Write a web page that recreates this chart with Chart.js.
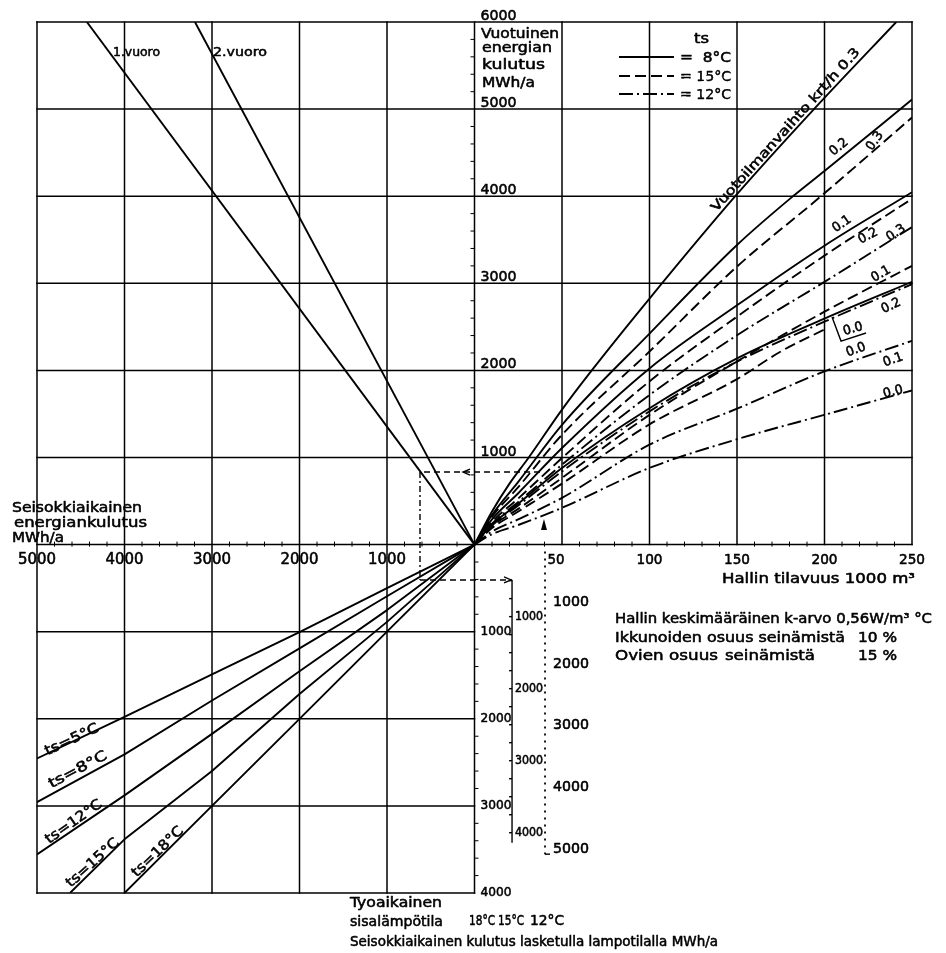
<!DOCTYPE html>
<html><head><meta charset="utf-8">
<script src="https://cdn.jsdelivr.net/npm/chart.js@4.4.1/dist/chart.umd.min.js"></script>
<style>html,body{margin:0;padding:0;background:#fff}#wrap{width:946px;height:953px;position:relative}</style>
</head><body><div id="wrap"><canvas id="c"></canvas></div>
<script>
// ================= DATA =================
// tick labels
const leftTicks  = [1000, 2000, 3000, 4000, 5000];      // standby MWh/a (left)
const volTicks   = [50, 100, 150, 200, 250];             // hall volume 1000 m3 (right)
const upTicks    = [1000, 2000, 3000, 4000, 5000, 6000]; // annual MWh/a (up)
const downTicks  = [1000, 2000, 3000, 4000];             // 18 °C scale (down)
const scale15Ticks = [1000, 2000, 3000, 4000];           // 15 °C scale
const scale12Ticks = [1000, 2000, 3000, 4000, 5000];     // 12 °C scale
const scale15Ratio = 0.827;   // MWh/a on 15 °C scale vs 18 °C scale
const scale12Ratio = 0.708;   // MWh/a on 12 °C scale vs 18 °C scale
const volToAxis = 20;         // 1000 m3 -> common axis unit

// upper right: annual energy vs hall volume (V in 1000 m3, E in MWh/a)
// ts = 8 °C (solid)
const s03V = [0, 10, 20, 31, 50, 67, 100, 149, 194, 241];
const s03E = [0, 380, 700, 1000, 1550, 2000, 2825, 4000, 5000, 6000];
const s02V = [0, 10, 25, 50, 100, 150, 182, 200, 250];
const s02E = [0, 340, 720, 1375, 2423, 3440, 4000, 4290, 5109];
const s01V = [0, 10, 25, 50, 100, 150, 200, 250];
const s01E = [0, 290, 590, 1109, 2023, 2747, 3432, 4046];
const s00V = [0, 10, 25, 50, 100, 150, 200, 250];
const s00E = [0, 230, 470, 880, 1566, 2137, 2594, 3017];
// ts = 15 °C (dashed)
const d03V = [0, 10, 25, 50, 100, 150, 198, 250];
const d03E = [0, 320, 660, 1261, 2217, 3192, 4000, 4903];
const d02V = [0, 10, 25, 50, 100, 150, 200, 250];
const d02E = [0, 260, 530, 994, 1874, 2617, 3318, 3970];
const d01V = [0, 10, 25, 50, 100, 150, 200, 250];
const d01E = [0, 210, 410, 766, 1489, 2103, 2674, 3200];
const d00V = [0, 10, 25, 50, 100, 150, 175, 201];
const d00E = [0, 190, 380, 700, 1380, 1900, 2217, 2480];
// ts = 12 °C (dash-dot)
const c03V = [0, 10, 25, 50, 100, 150, 200, 250];
const c03E = [0, 240, 490, 918, 1718, 2403, 3017, 3646];
const c02V = [0, 10, 25, 50, 100, 150, 200, 250];
const c02E = [0, 220, 450, 840, 1530, 2100, 2560, 2990];
const c01V = [0, 10, 25, 50, 100, 150, 200, 250];
const c01E = [0, 150, 290, 537, 1147, 1560, 1989, 2340];
const c00V = [0, 10, 25, 50, 100, 150, 200, 250];
const c00E = [0, 120, 225, 423, 880, 1210, 1490, 1770];

// upper left: shift lines (standby MWh/a to the left, annual MWh/a up)
const vuoro1Left = [0, 4430], vuoro1Up = [0, 6000];
const vuoro2Left = [0, 3195], vuoro2Up = [0, 6000];

// lower left: standby energy (left) vs energy at working temperature (down)
const tsLeft   = [0, 1000, 2000, 3000, 4000, 5000];
const ts5Down  = [0, 500, 1005, 1491, 1978, 2455];
const ts8Down  = [0, 593, 1191, 1790, 2408, 2956];
const ts12Down = [0, 752, 1453, 2173, 2879, 3558];
const ts15Left = [0, 1000, 2000, 3000, 4000, 4623];
const ts15Down = [0, 887, 1716, 2600, 3384, 4000];
const ts18Left = [0, 1000, 2000, 3000, 4000];
const ts18Down = [0, 1000, 2000, 3000, 4000];

// worked example path (common axis units)
const exLeft = 623, exUp = 833, exDown = 406, exVol = 39.7;

// ================= BUILD =================
const FONT = '"DejaVu Sans", "Liberation Sans", sans-serif';
const DASH = [11, 5], DASHDOT = [14, 4, 2, 4];
function upRight(V, E, dash) {
  return { data: V.map((v, i) => ({ x: v * volToAxis, y: E[i] })), borderDash: dash,
           cubicInterpolationMode: 'monotone', borderWidth: 1.9 };
}
function lowerLeft(L, D) {
  return { data: L.map((l, i) => ({ x: -l, y: -D[i] })), tension: 0, borderWidth: 1.9 };
}
function upperLeft(L, U) {
  return { data: L.map((l, i) => ({ x: -l, y: U[i] })), tension: 0, borderWidth: 1.9 };
}
const datasets = [
  upRight(s03V, s03E, []), upRight(s02V, s02E, []), upRight(s01V, s01E, []), upRight(s00V, s00E, []),
  upRight(d03V, d03E, DASH), upRight(d02V, d02E, DASH), upRight(d01V, d01E, DASH), upRight(d00V, d00E, DASH),
  upRight(c03V, c03E, DASHDOT), upRight(c02V, c02E, DASHDOT), upRight(c01V, c01E, DASHDOT), upRight(c00V, c00E, DASHDOT),
  upperLeft(vuoro1Left, vuoro1Up), upperLeft(vuoro2Left, vuoro2Up),
  lowerLeft(tsLeft, ts5Down), lowerLeft(tsLeft, ts8Down), lowerLeft(tsLeft, ts12Down),
  lowerLeft(ts15Left, ts15Down), lowerLeft(ts18Left, ts18Down)
].map(d => Object.assign({ showLine: true, borderColor: '#000', pointRadius: 0, fill: false,
                            borderJoinStyle: 'round' }, d));

function txt(ctx, s, x, y, o) {
  o = o || {};
  ctx.save();
  ctx.font = (o.size || 14) + 'px ' + FONT;
  ctx.textAlign = o.align || 'left';
  ctx.textBaseline = o.base || 'alphabetic';
  ctx.fillStyle = '#000'; ctx.strokeStyle = '#000'; ctx.lineWidth = 0.55; ctx.lineJoin = 'round';
  ctx.translate(x, y);
  if (o.rot) ctx.rotate(o.rot * Math.PI / 180);
  if (o.w) { const m = ctx.measureText(s).width; if (m > 0) ctx.scale(o.w / m, 1); }
  ctx.fillText(s, 0, 0);
  ctx.strokeText(s, 0, 0);
  ctx.restore();
}

const nomo = {
  id: 'nomo',
  beforeDatasetsDraw(chart) {
    const { ctx, scales: { x, y } } = chart;
    const X = v => x.getPixelForValue(v), Y = v => y.getPixelForValue(v);
    ctx.save();
    ctx.strokeStyle = '#000'; ctx.lineWidth = 1.5; ctx.lineCap = 'square';
    const seg = (x1, y1, x2, y2) => { ctx.beginPath(); ctx.moveTo(X(x1), Y(y1)); ctx.lineTo(X(x2), Y(y2)); ctx.stroke(); };
    for (const v of [-5000, -4000, -3000, -2000, -1000, 0]) seg(v, 6000, v, -4000);
    for (const v of [1000, 2000, 3000, 4000, 5000]) seg(v, 0, v, 6000);
    for (const h of [0, 1000, 2000, 3000, 4000, 5000, 6000]) seg(-5000, h, 5000, h);
    for (const h of [-1000, -2000, -3000, -4000]) seg(-5000, h, 0, h);
    // minor ticks
    ctx.lineWidth = 1; ctx.lineCap = 'butt';
    for (let v = -4800; v < 5000; v += 200) {
      if (v % 1000 === 0) continue;
      ctx.beginPath(); ctx.moveTo(X(v), Y(0) - 3); ctx.lineTo(X(v), Y(0) + 2); ctx.stroke();
    }
    for (let h = -3800; h < 6000; h += 200) {
      if (h % 1000 === 0) continue;
      ctx.beginPath();
      if (h > 0) { ctx.moveTo(X(0) - 4, Y(h)); ctx.lineTo(X(0), Y(h)); }
      else { ctx.moveTo(X(0), Y(h)); ctx.lineTo(X(0) + 4, Y(h)); }
      ctx.stroke();
    }
    // 15 °C scale
    const x15 = 429, x12 = 806;
    ctx.lineWidth = 1.4;
    seg(x15, -exDown, x15, -4140 * scale15Ratio);
    for (let k = 500; k <= 4000; k += 250) {
      ctx.beginPath(); ctx.moveTo(X(x15) - 3, Y(-k * scale15Ratio)); ctx.lineTo(X(x15), Y(-k * scale15Ratio)); ctx.stroke();
    }
    // 12 °C scale (dotted)
    ctx.setLineDash([2, 5]); ctx.lineWidth = 1.8;
    seg(x12, -80, x12, -5020 * scale12Ratio);
    ctx.setLineDash([]);
    ctx.lineWidth = 1.4;
    ctx.beginPath(); ctx.moveTo(X(x12), Y(-5020 * scale12Ratio)); ctx.lineTo(X(x12) + 5, Y(-5020 * scale12Ratio)); ctx.stroke();
    ctx.restore();
  },
  afterDatasetsDraw(chart) {
    const { ctx, scales: { x, y } } = chart;
    const X = v => x.getPixelForValue(v), Y = v => y.getPixelForValue(v);
    ctx.save();
    ctx.strokeStyle = '#000'; ctx.fillStyle = '#000';
    // ---- tick labels ----
    for (const v of leftTicks) txt(ctx, String(v), X(-v), Y(0) + 19, { align: 'center', size: 15, w: 38 });
    for (const v of volTicks) {
      const w = v < 100 ? 17 : 26;
      txt(ctx, String(v), X(v * volToAxis) - (v === 50 ? 6 : 0), Y(0) + 19, { align: 'center', size: 14, w });
    }
    for (const v of upTicks) txt(ctx, String(v), X(0) + 6, Y(v) - 2, { size: 14, w: 36 });
    for (const v of downTicks) txt(ctx, String(v), X(0) + 6, Y(-v) + 3, { size: 13, w: 31 });
    const x15 = 429, x12 = 806;
    for (const k of scale15Ticks) txt(ctx, String(k), X(x15) + 3, Y(-k * scale15Ratio), { size: 12, w: 28, base: 'middle' });
    for (const k of scale12Ticks) txt(ctx, String(k), X(x12) + 8, Y(-k * scale12Ratio) - 4, { size: 14, w: 36, base: 'middle' });

    // ---- axis titles / text ----
    txt(ctx, 'Vuotuinen', 481, 38, { w: 78 });
    txt(ctx, 'energian', 482, 52, { w: 70 });
    txt(ctx, 'kulutus', 482, 69, { w: 63 });
    txt(ctx, 'MWh/a', 482, 87, { w: 53 });
    txt(ctx, 'Seisokkiaikainen', 12, 512, { w: 130 });
    txt(ctx, 'energiankulutus', 14, 527, { w: 133 });
    txt(ctx, 'MWh/a', 12, 542, { w: 52 });
    txt(ctx, 'Hallin tilavuus 1000 m³', 722, 583, { w: 193 });
    txt(ctx, 'Hallin keskimääräinen k-arvo 0,56W/m³ °C', 615, 623, { w: 317 });
    txt(ctx, 'Ikkunoiden osuus seinämistä', 615, 642, { w: 230 });
    txt(ctx, '10 %', 858, 642, { w: 39 });
    txt(ctx, 'Ovien osuus', 615, 660, { w: 103 });
    txt(ctx, 'seinämistä', 725, 660, { w: 90 });
    txt(ctx, '15 %', 858, 660, { w: 39 });
    txt(ctx, 'Tyoaikainen', 350, 907, { w: 92 });
    txt(ctx, 'sisalämpötila', 350, 926, { w: 93 });
    txt(ctx, '18°C', 469, 925, { size: 14, w: 26 });
    txt(ctx, '15°C', 498, 925, { size: 14, w: 26 });
    txt(ctx, '12°C', 530, 925, { size: 14, w: 34 });
    txt(ctx, 'Seisokkiaikainen kulutus lasketulla lampotilalla MWh/a', 350, 946, { w: 368 });
    txt(ctx, '1.vuoro', 113, 56, { size: 13, w: 47 });
    txt(ctx, '2.vuoro', 213, 56, { size: 13, w: 54 });

    // ---- legend ----
    txt(ctx, 'ts', 694, 43, { w: 15 });
    const leg = [[[], '=  8°C', 57], [DASH, '= 15°C', 76], [DASHDOT, '= 12°C', 94]];
    ctx.lineWidth = 1.9;
    for (const [d, s, yy] of leg) {
      ctx.setLineDash(d); ctx.beginPath(); ctx.moveTo(619, yy); ctx.lineTo(674, yy); ctx.stroke();
      txt(ctx, s, 680, yy + 5, { w: 51 });
    }
    ctx.setLineDash([]);

    // ---- curve labels (common axis units) ----
    const lab = (s, xx, yy, rot, w) => txt(ctx, s, X(xx), Y(yy), { align: 'center', base: 'middle', rot, size: 13, w });
    lab('Vuotoilmanvaihto krt/h 0.3', 3560, 4760, -48, 215);
    lab('0.2', 4166, 4564, -40, 20);
    lab('0.3', 4578, 4633, -55, 20);
    lab('0.1', 4200, 3680, -35, 20);
    lab('0.2', 4498, 3542, -28, 20);
    lab('0.3', 4818, 3577, -35, 20);
    lab('0.1', 4646, 3106, -30, 20);
    lab('0.2', 4761, 2739, -25, 20);
    lab('0.0', 4326, 2475, -15, 20);
    lab('0.0', 4361, 2234, -20, 20);
    lab('0.1', 4784, 2120, -20, 20);
    lab('0.0', 4784, 1753, -15, 20);
    // bracket for boxed label
    ctx.lineWidth = 1.4; ctx.beginPath();
    ctx.moveTo(X(4086), Y(2613)); ctx.lineTo(X(4189), Y(2337)); ctx.lineTo(X(4475), Y(2429)); ctx.stroke();
    const tsl = (s, xx, yy, rot, w) => txt(ctx, s, X(xx), Y(yy), { align: 'center', base: 'middle', rot, size: 14, w });
    tsl('ts=5°C', -4600, -2243, -25, 58);
    tsl('ts=8°C', -4532, -2588, -28, 64);
    tsl('ts=12°C', -4578, -3185, -35, 66);
    tsl('ts=15°C', -4361, -3656, -42, 66);
    tsl('ts=18°C', -3618, -3530, -44, 66);

    // ---- worked example ----
    ctx.lineWidth = 1.4;
    ctx.setLineDash([6, 4]);
    ctx.beginPath(); ctx.moveTo(X(exVol * volToAxis - 45), Y(exUp)); ctx.lineTo(X(-exLeft), Y(exUp)); ctx.stroke();
    ctx.setLineDash([6, 3, 2, 3]);
    ctx.beginPath(); ctx.moveTo(X(-exLeft), Y(exUp)); ctx.lineTo(X(-exLeft), Y(-exDown)); ctx.stroke();
    ctx.setLineDash([6, 4]);
    ctx.beginPath(); ctx.moveTo(X(-exLeft), Y(-exDown)); ctx.lineTo(X(x15), Y(-exDown)); ctx.stroke();
    ctx.setLineDash([]);
    // arrowheads
    let ax = X(-131), ay = Y(exUp);
    ctx.beginPath(); ctx.moveTo(ax + 7, ay - 3); ctx.lineTo(ax, ay); ctx.lineTo(ax + 7, ay + 3); ctx.stroke();
    ax = X(x15) - 1; ay = Y(-exDown);
    ctx.beginPath(); ctx.moveTo(ax - 7, ay - 3); ctx.lineTo(ax, ay); ctx.lineTo(ax - 7, ay + 3); ctx.stroke();
    ax = X(exVol * volToAxis); ay = Y(225);
    ctx.beginPath(); ctx.moveTo(ax, ay - 6); ctx.lineTo(ax - 3, ay + 5); ctx.lineTo(ax + 3, ay + 5); ctx.closePath(); ctx.fill();
    ctx.restore();
  }
};

new Chart(document.getElementById('c'), {
  type: 'scatter',
  data: { datasets },
  options: {
    responsive: true, maintainAspectRatio: false, animation: false, events: [],
    layout: { padding: { left: 37, right: 34, top: 22, bottom: 60 } },
    plugins: { legend: { display: false }, tooltip: { enabled: false } },
    scales: {
      x: { type: 'linear', min: -5000, max: 5000, display: false },
      y: { type: 'linear', min: -4000, max: 6000, display: false }
    }
  },
  plugins: [nomo]
});
</script></body></html>
